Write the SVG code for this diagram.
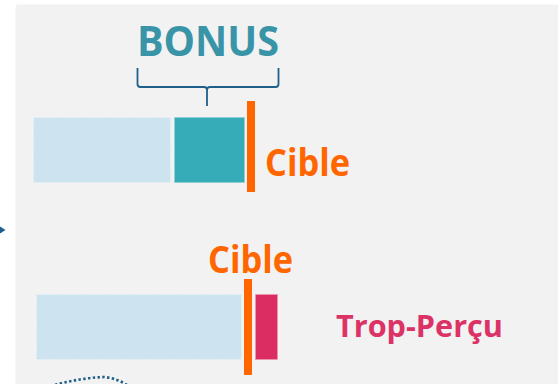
<svg xmlns="http://www.w3.org/2000/svg" width="558" height="384" viewBox="0 0 558 384">
  <style>
    .lbl { font-family: "Open Sans", "Liberation Sans", sans-serif; font-weight: 700; }
    .cible { fill: #ff6600; }
    .bar-base { fill: #cde3f0; stroke: #e6f0f6; stroke-width: 1; stroke-dasharray: 1.5 1.5; }
    .bar-bonus { fill: #37acb9; stroke: #8fcfd6; stroke-width: 1; stroke-dasharray: 1.5 1.5; }
    .bar-over { fill: #dc2d62; stroke: #f09ab4; stroke-width: 1; stroke-dasharray: 1.5 1.5; }
    .target { fill: #ff6600; }
    .link { fill: none; stroke: #1f5f8b; }
  </style>

  <!-- background panel -->
  <rect x="15.5" y="4.5" width="550" height="390" rx="3" fill="#f2f2f2"/>

  <!-- upper scenario: base + bonus up to the target -->
  <g id="bonus-scenario">
    <text class="lbl" x="137" y="56" font-size="41" fill="#3a94a8" textLength="142" lengthAdjust="spacingAndGlyphs">BONUS</text>
    <path d="M137.5,68 L137.5,84 Q137.5,87 140.5,87 L204,87 Q207,87 207,90 L207,106 M207,90 Q207,87 210,87 L275.5,87 Q278.5,87 278.5,84 L278.5,68" fill="none" stroke="#1f5f8b" stroke-width="1.8"/>
    <rect class="bar-base" x="33.5" y="117.5" width="137" height="65"/>
    <rect class="bar-bonus" x="174.5" y="117.5" width="70" height="65"/>
    <rect class="target" x="247" y="101" width="8" height="91"/>
    <text class="lbl cible" x="265" y="176" font-size="38" textLength="85" lengthAdjust="spacingAndGlyphs">Cible</text>
  </g>

  <!-- lower scenario: base beyond the target gives an overpayment -->
  <g id="trop-percu-scenario">
    <text class="lbl cible" x="208" y="273" font-size="37" textLength="85" lengthAdjust="spacingAndGlyphs">Cible</text>
    <rect class="bar-base" x="36.5" y="294.5" width="205" height="65"/>
    <rect class="target" x="244" y="279" width="8" height="96"/>
    <rect class="bar-over" x="255.5" y="294.5" width="22" height="65"/>
    <text class="lbl" x="336" y="337" font-size="31" fill="#dc3366" textLength="167" lengthAdjust="spacingAndGlyphs">Trop-Perçu</text>
  </g>

  <!-- connectors -->
  <g id="connectors">
    <polygon points="0,226.5 5.5,230 0,233.5" fill="#1f5f8b"/>
    <path class="link" d="M55,385 Q80,378 104,377 Q116,378 127,385" stroke-width="2.6" stroke-dasharray="2.4 2.4"/>
  </g>
</svg>
